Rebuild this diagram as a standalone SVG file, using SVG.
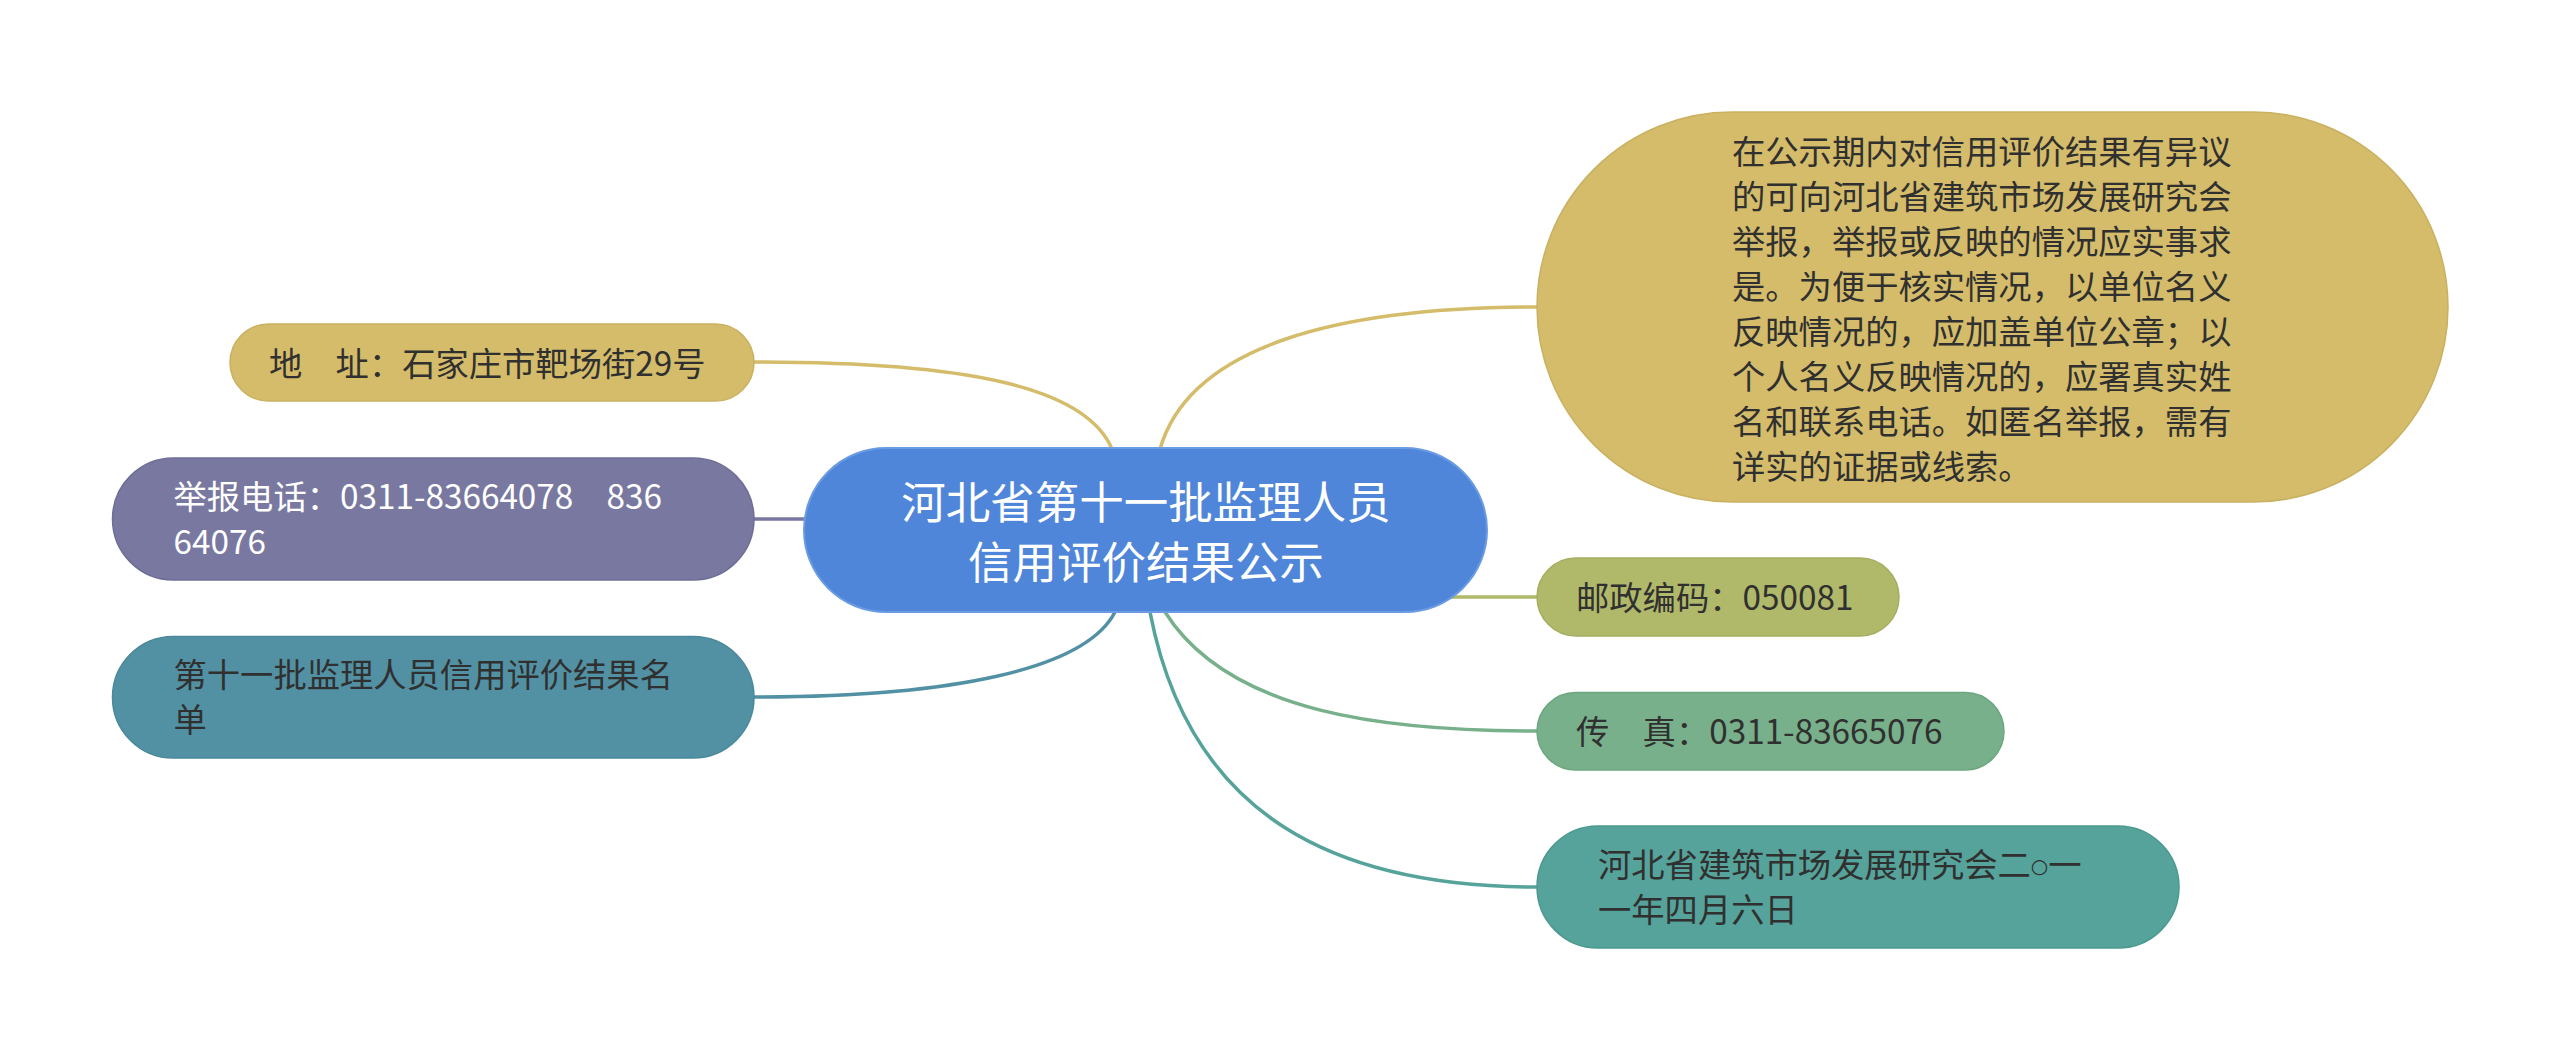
<svg xmlns="http://www.w3.org/2000/svg" width="2560" height="1061" viewBox="0 0 2560 1061">
<style>
.t{font-family:"Noto Sans CJK SC","Noto Sans",sans-serif;font-size:33.3px;fill:#303030}
.w{fill:#ffffff}
.title{font-family:"Noto Sans CJK SC","Noto Sans",sans-serif;font-size:44.5px;fill:#ffffff;text-anchor:middle}
.c{fill:none;stroke-width:3.5;stroke-linecap:round}
.o{font-family:"DejaVu Sans",sans-serif;font-size:20px;baseline-shift:4px}
</style>
<rect width="2560" height="1061" fill="#ffffff"/>
<g id="connectors">
<path class="c" stroke="#d4bc6a" d="M754,362 C960,362 1085,385 1112,449"/>
<path class="c" stroke="#d4bc6a" d="M1160,449 C1190,345 1340,307 1537,307"/>
<path class="c" stroke="#7878a0" d="M754,519 L806,519"/>
<path class="c" stroke="#5291a3" d="M754,697 C950,697 1085,670 1115,612"/>
<path class="c" stroke="#b0b86a" d="M1450,597 L1537,597"/>
<path class="c" stroke="#77b08a" d="M1165,612 C1230,715 1390,731 1537,731"/>
<path class="c" stroke="#55a39a" d="M1150,612 C1190,820 1340,887 1537,887"/>
</g>
<g id="center">
<rect x="804" y="448" width="683" height="164" rx="82" fill="#4f86d9" stroke="#6a9be3" stroke-width="2"/>
<text class="title" x="1146" y="518.5">河北省第十一批监理人员</text>
<text class="title" x="1146" y="578.5">信用评价结果公示</text>
</g>
<g id="address">
<rect x="230" y="324" width="524" height="77" rx="38.5" fill="#d4bc6a" stroke="#c9b162" stroke-width="1.5"/>
<text class="t" x="269" y="375.5">地　址：石家庄市靶场街29号</text>
</g>
<g id="phone">
<rect x="112.5" y="458" width="641.5" height="122" rx="61" fill="#7878a0" stroke="#6d6d96" stroke-width="1.5"/>
<text class="t w" x="173.5" y="509">举报电话：0311-83664078　836</text>
<text class="t w" x="173.5" y="554">64076</text>
</g>
<g id="list">
<rect x="112.5" y="636.5" width="641.5" height="121.5" rx="60.75" fill="#5291a3" stroke="#4a889a" stroke-width="1.5"/>
<text class="t" x="173.5" y="687">第十一批监理人员信用评价结果名</text>
<text class="t" x="173.5" y="732">单</text>
</g>
<g id="notice">
<rect x="1537" y="112" width="911" height="390" rx="195" fill="#d4bc6a" stroke="#c9b162" stroke-width="1.5"/>
<text class="t" x="1732" y="163.5">在公示期内对信用评价结果有异议</text>
<text class="t" x="1732" y="208.5">的可向河北省建筑市场发展研究会</text>
<text class="t" x="1732" y="253.5">举报，举报或反映的情况应实事求</text>
<text class="t" x="1732" y="298.5">是。为便于核实情况，以单位名义</text>
<text class="t" x="1732" y="343.5">反映情况的，应加盖单位公章；以</text>
<text class="t" x="1732" y="388.5">个人名义反映情况的，应署真实姓</text>
<text class="t" x="1732" y="433.5">名和联系电话。如匿名举报，需有</text>
<text class="t" x="1732" y="478.5">详实的证据或线索。</text>
</g>
<g id="postal">
<rect x="1537" y="558" width="362" height="78" rx="39" fill="#b0b86a" stroke="#a5ad60" stroke-width="1.5"/>
<text class="t" x="1576" y="609.5">邮政编码：050081</text>
</g>
<g id="fax">
<rect x="1537" y="692.5" width="467" height="77.5" rx="38.75" fill="#77b08a" stroke="#6ca780" stroke-width="1.5"/>
<text class="t" x="1576" y="743.5">传　真：0311-83665076</text>
</g>
<g id="org">
<rect x="1537" y="826" width="642" height="122" rx="61" fill="#55a39a" stroke="#4b998f" stroke-width="1.5"/>
<text class="t" x="1598" y="877">河北省建筑市场发展研究会二<tspan class="o">○</tspan>一</text>
<text class="t" x="1598" y="922">一年四月六日</text>
</g>
</svg>
